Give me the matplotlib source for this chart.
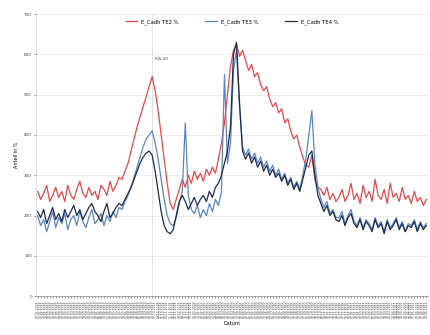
import matplotlib
matplotlib.use("Agg")
import matplotlib.pyplot as plt
import pandas as pd

# weekly values
red = [260, 240, 255, 275, 235, 250, 270, 245, 260, 235,
       275, 250, 240, 265, 285, 255, 245, 270, 250, 260,
       240, 275, 265, 250, 285, 260, 275, 295, 290, 310,
       330, 360, 390, 420, 445, 470, 495, 520, 545, 510,
       460, 400, 340, 280, 230, 215, 240, 265, 290, 270,
       300, 280, 310, 290, 305, 285, 315, 300, 320, 305,
       340, 380, 430, 500, 570, 610, 625, 595, 610, 585,
       560, 575, 545, 555, 525, 510, 520, 490, 470, 480,
       455, 465, 430, 440, 410, 390, 400, 370, 345, 325,
       320, 350, 290, 270, 265, 250, 270, 240, 255, 235,
       245, 265, 235, 250, 280, 240, 255, 230, 275, 245,
       260, 235, 290, 250, 240, 265, 230, 280, 245, 255,
       235, 270, 240, 250, 230, 260, 235, 245, 225, 240]

blue = [200, 175, 190, 160, 185, 210, 170, 195, 180, 205,
        165, 190, 200, 175, 210, 185, 170, 195, 215, 180,
        190, 205, 175, 200, 185, 210, 195, 220, 215, 235,
        250, 270, 295, 320, 345, 370, 390, 400, 410, 380,
        340, 290, 240, 200, 180, 175, 195, 230, 260, 430,
        250, 215, 205, 225, 195, 215, 200, 230, 210, 240,
        225, 260, 550, 330, 380, 560, 610, 470, 370, 350,
        365, 340, 355, 330, 345, 320, 335, 310, 325, 300,
        315, 290, 305, 280, 295, 270, 285, 265, 300, 340,
        400, 460, 330, 270, 240, 220, 235, 205, 215, 195,
        195, 210, 180, 200, 215, 185, 175, 195, 170, 190,
        180, 165, 195, 175, 185, 160, 190, 170, 180, 195,
        170, 185, 160, 180, 175, 190, 165, 185, 170, 180]

dark = [210, 195, 215, 180, 200, 220, 190, 205, 185, 215,
        195, 210, 225, 200, 215, 190, 205, 220, 230, 210,
        200, 185, 210, 230, 195, 205, 220, 230, 225, 240,
        255, 270, 290, 310, 330, 345, 355, 360, 350, 310,
        260, 210, 175, 160, 155, 165, 200, 235, 250, 235,
        215, 230, 245, 225, 240, 250, 235, 260, 245, 270,
        280, 300, 330, 360, 420, 600, 630, 480, 360, 340,
        355, 330, 345, 320, 335, 310, 325, 300, 315, 295,
        305, 285, 300, 275, 290, 265, 280, 260, 290, 320,
        350, 360, 300, 250, 230, 210, 225, 200, 210, 190,
        185, 200, 175, 195, 205, 180, 170, 190, 165, 185,
        175, 160, 190, 170, 180, 155, 185, 165, 175, 190,
        165, 180, 160, 175, 170, 185, 160, 180, 165, 175]

weeks = pd.date_range("2019-01-07", periods=len(red), freq="7D")
week_labels = [d.strftime("%d.%m.%Y") for d in weeks]
series_names = ["E_Cadh TE2 %", "E_Cadh TE3 %", "E_Cadh TE4 %"]
y_ticks = [0, 100, 200, 300, 400, 500, 600, 700]
marker_week = 38

fig = plt.figure(figsize=(4.3, 3.35), dpi=100)
ax = fig.add_axes([0.084, 0.116, 0.911, 0.842])

x = list(range(len(red)))
ax.plot(x, red, color="#e8474c", lw=0.9, label=series_names[0])
ax.plot(x, blue, color="#5a86c6", lw=0.9, label=series_names[1])
ax.plot(x, dark, color="#1e2b4a", lw=0.9, label=series_names[2])

ax.axvline(marker_week, color="#dddddd", lw=0.6, zorder=0)
ax.text(marker_week + 1, 585, "KW 40", fontsize=3, color="#555555")

ax.set_xlim(-0.5, len(red) - 0.5)
ax.set_ylim(0, 700)
ax.set_yticks(y_ticks)
ax.set_yticklabels([str(v) for v in y_ticks], fontsize=3)
ax.set_xticks(x)
ax.set_xticklabels(week_labels, rotation=90, fontsize=2.2)
ax.tick_params(axis="both", length=1.5, width=0.4, pad=1.5, colors="#444444")
ax.grid(axis="y", color="#e6e6e6", lw=0.5)
ax.set_axisbelow(True)

for side in ["top", "right"]:
    ax.spines[side].set_visible(False)
ax.spines["left"].set_color("#d0d0d0")
ax.spines["left"].set_linewidth(0.5)
ax.spines["bottom"].set_color("#888888")
ax.spines["bottom"].set_linewidth(0.5)

ax.set_xlabel("Datum", fontsize=3.5, labelpad=2)
ax.set_ylabel("Anteil in %", fontsize=3.5, labelpad=4)
ax.legend(loc="upper center", bbox_to_anchor=(0.5, 1.0), ncol=3, frameon=False,
          fontsize=3.8, handlelength=2.2, columnspacing=5)

fig.savefig("out.png", dpi=100)
